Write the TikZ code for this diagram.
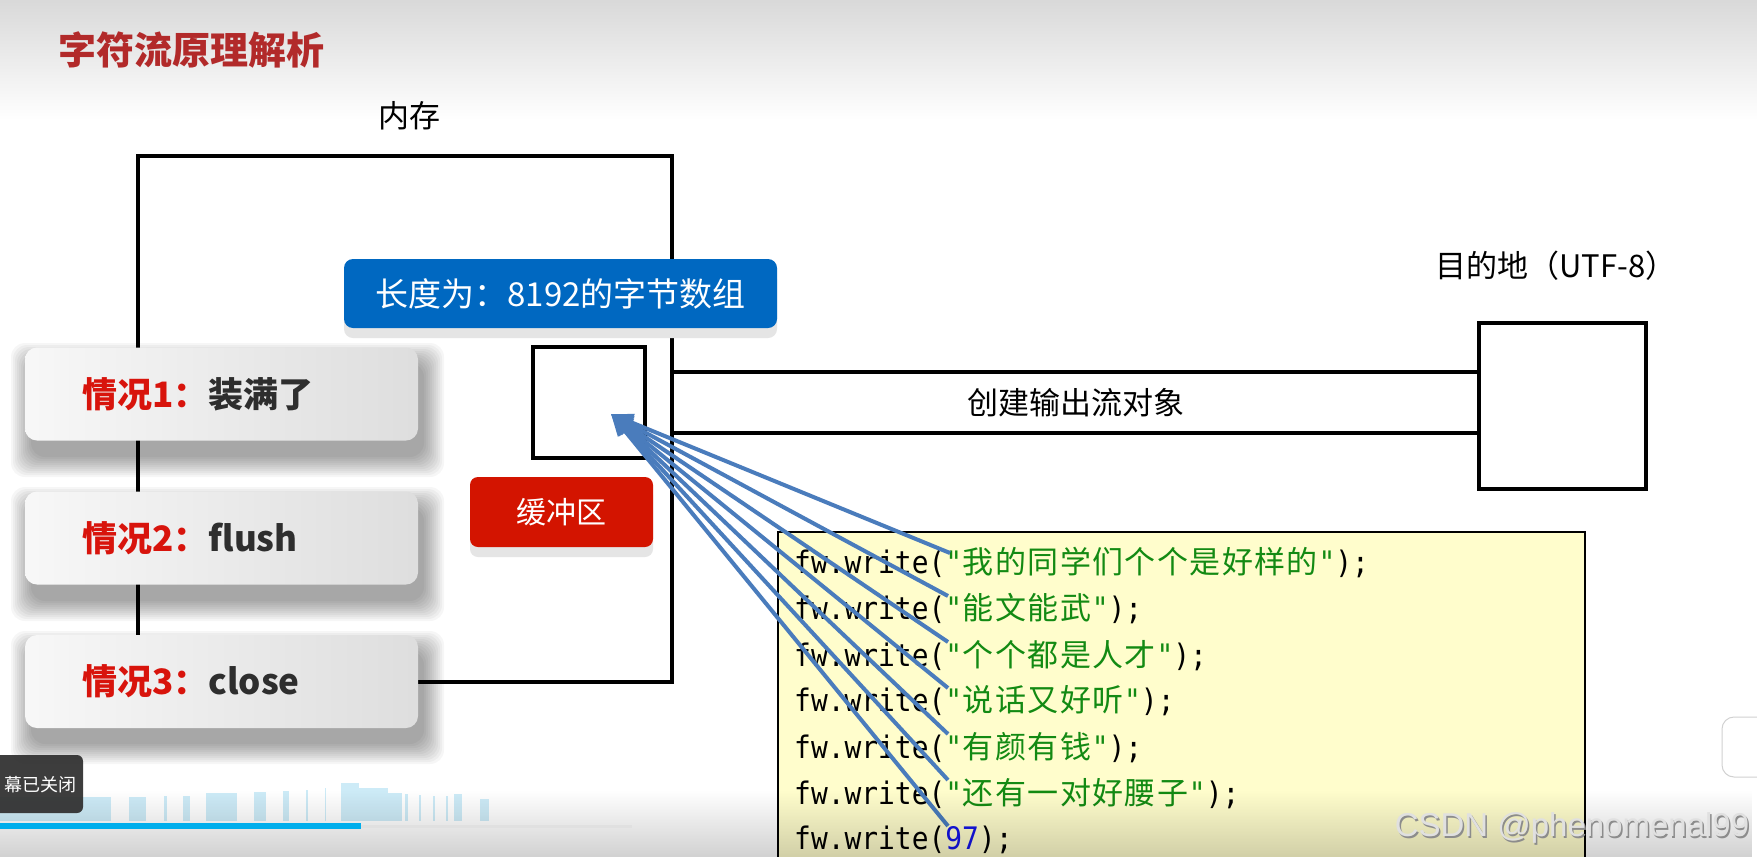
\documentclass[tikz,border=0pt]{standalone}
\usepackage{fontspec}
\setmainfont{Noto Sans CJK SC}
\newfontfamily\codemono[FakeStretch=0.9]{DejaVu Sans Mono}
\newfontfamily\codecjk{Noto Sans CJK SC}
\newfontfamily\wmfont{Liberation Sans}
\usetikzlibrary{arrows.meta,fadings}
\definecolor{titlered}{HTML}{B22A2A}
\definecolor{boxblue}{HTML}{0068C1}
\definecolor{boxred}{HTML}{D31400}
\definecolor{casered}{HTML}{D8140C}
\definecolor{casedark}{HTML}{2E2E2E}
\definecolor{arrowblue}{HTML}{4A7CBC}
\definecolor{codeyellow}{HTML}{FFFDCC}
\definecolor{codegreen}{HTML}{138A13}
\definecolor{codeblue}{HTML}{1414E6}
\definecolor{progblue}{HTML}{00AEEC}
\definecolor{wave}{HTML}{CDEBF7}
\newcommand\myfs[1]{\fontsize{#1}{#1}\selectfont}
\newcommand\cjc[1]{\cjcloop#1\relax}
\def\cjcloop#1{\ifx\relax#1\else\makebox[32.4pt]{#1}\expandafter\cjcloop\fi}
\newcommand\wline[1]{{\codemono\myfs{31}fw.write(\textcolor{codegreen}{"{\codecjk\myfs{31}\cjc{#1}}"});}}
\newcommand\caseshadow[2]{%
  \foreach \e in {0,2,...,20}{\fill[black,opacity=0.035,rounded corners=14pt] (31-\e,#1+16-\e) rectangle (424+\e,#2+16+\e);}}
\begin{document}
\begin{tikzpicture}[x=1pt,y=-1pt,
  lbl/.style={font=\myfs{31}, inner sep=0, text=black},
  casebox/.style={rounded corners=12pt, left color=white!97!black, right color=white!87!black, minimum width=393pt, minimum height=93pt, inner sep=0},
  casetext/.style={anchor=west, inner sep=0, font=\bfseries\myfs{35}},
  frame/.style={draw, line width=4pt, inner sep=0},
  codeline/.style={anchor=base west, inner sep=0},
  feed/.style={draw=arrowblue, line width=4pt, -{Triangle[length=22pt,width=17pt]}}]
\clip (0,0) rectangle (1757,857);
\useasboundingbox (0,0) rectangle (1757,857);
\fill[white] (0,0) rectangle (1757,857);
\shade[top color=black!15, bottom color=white] (0,0) rectangle (1757,120);
% title
\node[anchor=west, inner sep=0, text=titlered, font=\bfseries\myfs{38}] (title) at (58,50) {字符流原理解析};
\node[lbl] (memlabel) at (409,116) {内存};
% shadows of the case boxes
\caseshadow{347}{441}
\caseshadow{491}{585}
\caseshadow{635}{728}
% memory, buffer, destination
\node[frame, minimum width=534pt, minimum height=526pt] (mem) at (405,419) {};
\node[frame, minimum width=112pt, minimum height=111pt] (buf) at (589,402.5) {};
\node[frame, minimum width=167pt, minimum height=166pt] (dest) at (1562.5,406) {};
\draw[line width=4pt] (mem.east |- 0,372) -- (dest.west |- 0,372);
\draw[line width=4pt] (mem.east |- 0,433) -- (dest.west |- 0,433);
\node[lbl] (pipelabel) at (1076,403) {创建输出流对象};
\node[lbl] (destlabel) at (1556,266) {目的地（UTF-8）};
% blue and red labels
\fill[black!10, rounded corners=9pt] (344,270) rectangle (777,338);
\node[fill=boxblue, rounded corners=9pt, minimum width=433pt, minimum height=69pt, inner sep=0, text=white, font=\myfs{33}] (arr) at (560.5,293.5) {长度为：8192的字节数组};
\fill[black!10, rounded corners=8pt] (470,487) rectangle (653,557);
\node[fill=boxred, rounded corners=8pt, minimum width=183pt, minimum height=70pt, inner sep=0, text=white, font=\myfs{30}] (bufname) at (561.5,512) {缓冲区};
% case boxes
\node[casebox] (c1) at (221.5,394) {};
\node[casebox] (c2) at (221.5,538) {};
\node[casebox] (c3) at (221.5,681.5) {};
\node[casetext] (t1) at (82,394) {\textcolor{casered}{情况1：}\textcolor{casedark}{装满了}};
\node[casetext] (t2) at (82,538) {\textcolor{casered}{情况2：}\textcolor{casedark}{flush}};
\node[casetext] (t3) at (82,681) {\textcolor{casered}{情况3：}\textcolor{casedark}{close}};
% code box
\draw[line width=2pt, fill=codeyellow] (778,900) -- (778,532) -- (1585,532) -- (1585,900);
\node[codeline] (l1) at (794,573) {\wline{我的同学们个个是好样的}};
\node[codeline] (l2) at (794,619) {\wline{能文能武}};
\node[codeline] (l3) at (794,666) {\wline{个个都是人才}};
\node[codeline] (l4) at (794,711) {\wline{说话又好听}};
\node[codeline] (l5) at (794,758) {\wline{有颜有钱}};
\node[codeline] (l6) at (794,804) {\wline{还有一对好腰子}};
\node[codeline] (l7) at (794,849) {{\codemono\myfs{31}fw.write(\textcolor{codeblue}{97});}};
% arrows
\coordinate (tip) at (611,414);
\coordinate (s1) at (950,553);
\coordinate (s2) at (948,596);
\coordinate (s3) at (948,642);
\coordinate (s4) at (948,688);
\coordinate (s5) at (948,734);
\coordinate (s6) at (948,780);
\coordinate (s7) at (948,826);
\foreach \s in {s1,s2,s3,s4,s5,s6,s7}{\draw[feed] (\s) -- (tip);}
% video overlay
\foreach \a/\b/\t in {0/111/797,129/146/797,164/167/796,183/190/796,206/237/793,254/266/792,283/289/791,306/308/790,325/326/788,341/359/783,359/388/788,388/402/793,405/408/794,419/421/795,433/435/796,446/448/796,454/462/794,480/489/799}
  {\fill[wave] (\a,\t) rectangle (\b,821);}
\fill[black, opacity=0.18, path fading=north] (0,790) rectangle (1757,857);
\fill[white!88!black] (361,825) rectangle (632,828);
\fill[progblue] (0,823) rectangle (361,829);
\fill[black!80, opacity=0.95, rounded corners=6pt] (-20,755) rectangle (83,813);
\node[anchor=west, inner sep=0, text=white, font=\myfs{18}] (toast) at (4,785) {幕已关闭};
\fill[white, rounded corners=12pt, draw=black!18, line width=1pt] (1722,717) rectangle (1790,777);
\node[inner sep=0, text=black!45, font=\wmfont\myfs{33}] (wmshadow) at (1573.5,829.5) {CSDN @phenomenal99};
\node[inner sep=0, text=white!88!black, font=\wmfont\myfs{33}] (wm) at (1572,828) {CSDN @phenomenal99};
\end{tikzpicture}
\end{document}
